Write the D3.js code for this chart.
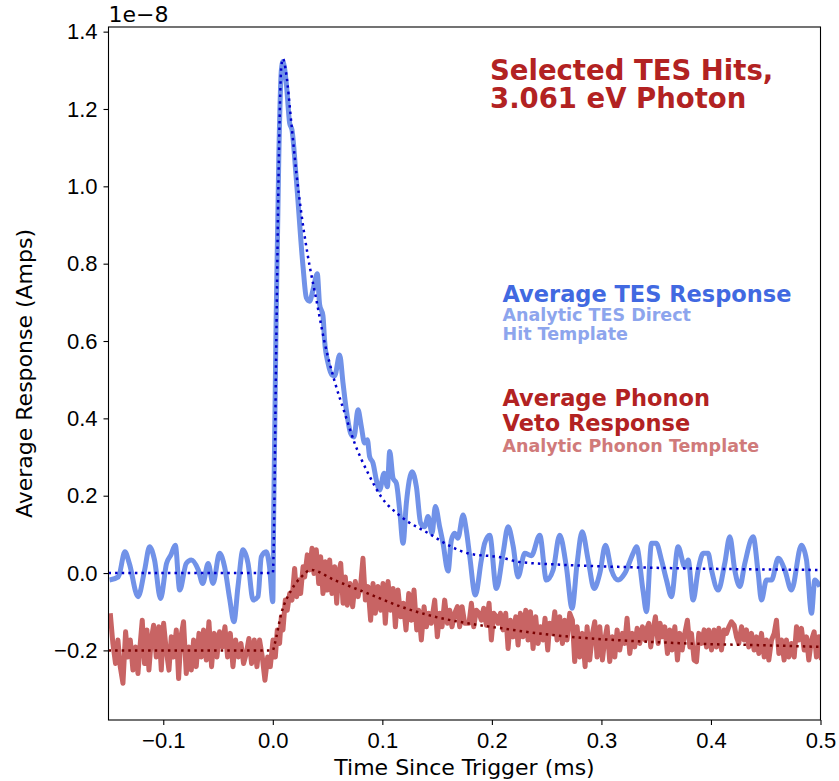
<!DOCTYPE html>
<html>
<head>
<meta charset="utf-8">
<script src="https://cdn.jsdelivr.net/npm/d3@7"></script>
<style>
  html, body { margin: 0; padding: 0; background: #fff; }
  svg { display: block; font-family: "DejaVu Sans", sans-serif; }
  .axis text { font-size: 22px; fill: #000; }
  .axis line { stroke: #000; stroke-width: 1.1; }
</style>
</head>
<body>
<svg id="chart"></svg>
<script>
// values are in units of 1e-8 A, time in ms
const xTicks = [-0.1, 0.0, 0.1, 0.2, 0.3, 0.4, 0.5];
const yTicks = [-0.2, 0.0, 0.2, 0.4, 0.6, 0.8, 1.0, 1.2, 1.4];

const tesAverage = [
  [-0.149, -0.018], [-0.141, -0.010], [-0.135, 0.055], [-0.131, 0.025], [-0.123, -0.061], [-0.117, 0.008],
  [-0.1125, 0.068], [-0.108, 0.034], [-0.1025, -0.066], [-0.097, 0.025], [-0.093, 0.047], [-0.089, 0.072],
  [-0.085, -0.044], [-0.079, 0.025], [-0.0744, 0.034], [-0.068, 0.008], [-0.064, -0.027], [-0.059, 0.025],
  [-0.0546, -0.027], [-0.0486, 0.051], [-0.044, 0.016], [-0.0394, -0.066], [-0.0355, -0.126], [-0.0318, -0.035],
  [-0.0272, 0.060], [-0.0226, 0.025], [-0.018, -0.070], [-0.0135, -0.061], [-0.0105, 0.042], [-0.006, 0.055],
  [-0.003, 0.016], [0.000, -0.074], [0.0008, 0.15], [0.003, 0.65], [0.0055, 1.08], [0.0078, 1.30],
  [0.0093, 1.323], [0.0123, 1.267], [0.0154, 1.163], [0.0175, 1.146], [0.0215, 1.017], [0.0276, 0.792],
  [0.0306, 0.712], [0.0336, 0.703], [0.0367, 0.732], [0.0406, 0.774], [0.0427, 0.695], [0.0458, 0.665],
  [0.0473, 0.600], [0.0504, 0.543], [0.0541, 0.512], [0.0565, 0.510], [0.0610, 0.564], [0.0641, 0.491],
  [0.0671, 0.422], [0.0711, 0.361], [0.0741, 0.352], [0.0778, 0.422], [0.0808, 0.379], [0.0838, 0.336],
  [0.0863, 0.345], [0.0884, 0.301], [0.0915, 0.284], [0.0945, 0.241], [0.0975, 0.215], [0.1016, 0.258],
  [0.1046, 0.223], [0.1067, 0.314], [0.1098, 0.245], [0.1128, 0.232], [0.1158, 0.163], [0.1189, 0.077],
  [0.1219, 0.180], [0.1271, 0.262], [0.1311, 0.223], [0.1350, 0.129], [0.1386, 0.120], [0.1417, 0.146],
  [0.1454, 0.103], [0.1484, 0.172], [0.1523, 0.120], [0.1554, 0.077], [0.1600, 0.005], [0.1630, 0.085],
  [0.1660, 0.103], [0.1690, 0.090], [0.1737, 0.150], [0.1767, 0.110], [0.1797, 0.045], [0.1849, -0.057],
  [0.1904, 0.034], [0.1934, 0.077], [0.1980, 0.098], [0.2041, -0.040], [0.2102, 0.051], [0.2148, 0.120],
  [0.2194, 0.070], [0.2239, -0.010], [0.2300, 0.051], [0.2361, 0.045], [0.2437, 0.098], [0.2498, -0.018],
  [0.2559, 0.008], [0.2619, 0.098], [0.2680, 0.016], [0.2732, -0.091], [0.2778, 0.025], [0.2824, 0.107],
  [0.2879, 0.034], [0.2933, -0.040], [0.2985, -0.001], [0.3037, 0.072], [0.3091, 0.008], [0.3153, -0.018],
  [0.3213, -0.001], [0.3289, 0.051], [0.3320, 0.068], [0.3381, -0.048], [0.3411, -0.100], [0.3457, 0.077],
  [0.3500, 0.077], [0.3548, 0.034], [0.3594, -0.018], [0.3639, -0.061], [0.3700, 0.068], [0.3761, 0.016],
  [0.3792, 0.034], [0.3837, -0.070], [0.3883, 0.008], [0.3929, 0.051], [0.3974, 0.051], [0.4005, 0.008],
  [0.4066, -0.044], [0.4126, 0.025], [0.4172, 0.094], [0.4217, 0.008], [0.4263, -0.035], [0.4309, 0.025],
  [0.4385, 0.094], [0.4431, 0.000], [0.4461, -0.070], [0.4507, -0.018], [0.4553, -0.018], [0.4614, 0.038],
  [0.4674, 0.008], [0.4735, -0.044], [0.4826, 0.072], [0.4872, 0.034], [0.4918, -0.104], [0.4948, -0.018],
  [0.4994, -0.035]
];

const tesTemplate = [
  [-0.15, 0.0], [0.0, 0.0], [0.0032, 0.603], [0.0053, 1.035], [0.0078, 1.31], [0.0093, 1.33],
  [0.0123, 1.29], [0.0169, 1.164], [0.0215, 1.035], [0.026, 0.931], [0.032, 0.82], [0.040, 0.703],
  [0.047, 0.60], [0.056, 0.50], [0.0656, 0.414], [0.0747, 0.336], [0.087, 0.258], [0.099, 0.197],
  [0.117, 0.146], [0.142, 0.103], [0.163, 0.068], [0.178, 0.051], [0.209, 0.040], [0.224, 0.029],
  [0.26, 0.022], [0.315, 0.016], [0.4, 0.011], [0.5, 0.008]
];

const phononAverage = [
  [-0.1484, -0.104], [-0.1460, -0.182], [-0.1436, -0.234], [-0.1414, -0.173], [-0.1393, -0.242], [-0.1368, -0.285],
  [-0.1344, -0.152], [-0.1323, -0.217], [-0.1301, -0.173], [-0.1277, -0.251], [-0.1253, -0.191], [-0.1231, -0.260],
  [-0.1210, -0.182], [-0.1192, -0.122], [-0.1171, -0.234], [-0.1149, -0.147], [-0.1131, -0.251], [-0.1110, -0.173],
  [-0.1088, -0.135], [-0.1064, -0.217], [-0.1040, -0.139], [-0.1018, -0.251], [-0.0997, -0.130], [-0.0973, -0.199],
  [-0.0948, -0.251], [-0.0927, -0.165], [-0.0906, -0.217], [-0.0881, -0.147], [-0.0860, -0.273], [-0.0839, -0.165],
  [-0.0815, -0.126], [-0.0790, -0.260], [-0.0766, -0.191], [-0.0744, -0.251], [-0.0723, -0.173], [-0.0699, -0.242],
  [-0.0674, -0.156], [-0.0653, -0.217], [-0.0632, -0.147], [-0.0607, -0.225], [-0.0583, -0.126], [-0.0559, -0.242],
  [-0.0534, -0.156], [-0.0510, -0.217], [-0.0486, -0.152], [-0.0461, -0.191], [-0.0437, -0.139], [-0.0413, -0.217],
  [-0.0388, -0.156], [-0.0364, -0.242], [-0.0340, -0.173], [-0.0315, -0.217], [-0.0291, -0.182], [-0.0267, -0.234],
  [-0.0242, -0.208], [-0.0218, -0.169], [-0.0194, -0.234], [-0.0169, -0.173], [-0.0145, -0.242], [-0.0121, -0.173],
  [-0.0096, -0.217], [-0.0072, -0.277], [-0.0047, -0.217], [-0.0023, -0.242], [0.0002, -0.173], [0.0023, -0.217],
  [0.0041, -0.147], [0.0062, -0.182], [0.0078, -0.113], [0.0093, -0.147], [0.0114, -0.070], [0.0132, -0.096],
  [0.0154, -0.053], [0.0175, -0.070], [0.0199, 0.012], [0.0218, -0.061], [0.0236, -0.018], [0.0254, -0.053],
  [0.0276, 0.016], [0.0291, -0.010], [0.0315, 0.047], [0.0336, 0.008], [0.0358, 0.064], [0.0376, -0.001],
  [0.0397, 0.060], [0.0419, -0.027], [0.0437, 0.042], [0.0458, -0.053], [0.0479, 0.029], [0.0498, -0.044],
  [0.0519, 0.034], [0.0540, -0.053], [0.0565, 0.016], [0.0583, -0.078], [0.0601, -0.001], [0.0620, 0.025],
  [0.0641, -0.078], [0.0662, -0.010], [0.0680, -0.083], [0.0705, -0.027], [0.0729, -0.087], [0.0753, -0.022],
  [0.0778, -0.061], [0.0802, -0.031], [0.0823, 0.038], [0.0845, -0.070], [0.0869, -0.035], [0.0893, -0.122],
  [0.0915, -0.027], [0.0936, -0.104], [0.0960, -0.035], [0.0985, -0.096], [0.1006, -0.027], [0.1027, -0.130],
  [0.1052, -0.022], [0.1076, -0.096], [0.1098, -0.040], [0.1119, -0.139], [0.1143, -0.044], [0.1168, -0.113],
  [0.1192, -0.078], [0.1216, -0.147], [0.1241, -0.053], [0.1265, -0.122], [0.1289, -0.044], [0.1314, -0.147],
  [0.1332, -0.096], [0.1356, -0.173], [0.1381, -0.087], [0.1402, -0.139], [0.1423, -0.104], [0.1447, -0.130],
  [0.1478, -0.070], [0.1502, -0.165], [0.1524, -0.104], [0.1545, -0.139], [0.1569, -0.070], [0.1594, -0.130],
  [0.1615, -0.096], [0.1636, -0.139], [0.1661, -0.104], [0.1685, -0.087], [0.1706, -0.139], [0.1728, -0.087],
  [0.1752, -0.130], [0.1791, -0.130], [0.1813, -0.078], [0.1834, -0.139], [0.1858, -0.096], [0.1883, -0.104],
  [0.1904, -0.122], [0.1925, -0.091], [0.1950, -0.135], [0.1974, -0.078], [0.1995, -0.173], [0.2017, -0.104],
  [0.2041, -0.113], [0.2056, -0.130], [0.2078, -0.104], [0.2102, -0.147], [0.2126, -0.104], [0.2148, -0.195],
  [0.2169, -0.122], [0.2193, -0.165], [0.2218, -0.113], [0.2239, -0.186], [0.2260, -0.104], [0.2285, -0.165],
  [0.2309, -0.096], [0.2330, -0.173], [0.2352, -0.100], [0.2376, -0.195], [0.2400, -0.113], [0.2422, -0.182],
  [0.2443, -0.139], [0.2467, -0.173], [0.2485, -0.117], [0.2510, -0.199], [0.2528, -0.130], [0.2552, -0.156],
  [0.2574, -0.100], [0.2595, -0.173], [0.2619, -0.113], [0.2644, -0.182], [0.2665, -0.122], [0.2686, -0.173],
  [0.2711, -0.104], [0.2735, -0.122], [0.2756, -0.229], [0.2778, -0.139], [0.2802, -0.217], [0.2826, -0.156],
  [0.2851, -0.242], [0.2869, -0.139], [0.2893, -0.225], [0.2918, -0.156], [0.2939, -0.126], [0.2960, -0.217],
  [0.2985, -0.139], [0.3009, -0.225], [0.3030, -0.173], [0.3052, -0.139], [0.3076, -0.229], [0.3100, -0.165],
  [0.3122, -0.217], [0.3143, -0.147], [0.3167, -0.199], [0.3192, -0.156], [0.3213, -0.182], [0.3234, -0.117],
  [0.3259, -0.208], [0.3283, -0.156], [0.3304, -0.191], [0.3326, -0.143], [0.3350, -0.182], [0.3374, -0.139],
  [0.3399, -0.173], [0.3411, -0.147], [0.3432, -0.130], [0.3450, -0.191], [0.3472, -0.147], [0.3493, -0.113],
  [0.3518, -0.182], [0.3536, -0.130], [0.3554, -0.165], [0.3578, -0.139], [0.3603, -0.208], [0.3624, -0.147],
  [0.3645, -0.199], [0.3670, -0.139], [0.3694, -0.225], [0.3715, -0.156], [0.3737, -0.199], [0.3761, -0.156],
  [0.3785, -0.122], [0.3807, -0.191], [0.3822, -0.156], [0.3846, -0.225], [0.3868, -0.229], [0.3889, -0.156],
  [0.3913, -0.182], [0.3938, -0.147], [0.3959, -0.191], [0.3980, -0.147], [0.4005, -0.199], [0.4029, -0.147],
  [0.4050, -0.191], [0.4072, -0.143], [0.4096, -0.199], [0.4120, -0.147], [0.4142, -0.156], [0.4163, -0.139],
  [0.4187, -0.126], [0.4212, -0.135], [0.4233, -0.165], [0.4254, -0.182], [0.4279, -0.139], [0.4303, -0.173],
  [0.4324, -0.147], [0.4345, -0.191], [0.4370, -0.156], [0.4394, -0.199], [0.4416, -0.165], [0.4437, -0.208],
  [0.4461, -0.156], [0.4486, -0.217], [0.4507, -0.173], [0.4528, -0.225], [0.4553, -0.173], [0.4577, -0.156],
  [0.4598, -0.122], [0.4620, -0.208], [0.4644, -0.173], [0.4668, -0.225], [0.4689, -0.173], [0.4711, -0.217],
  [0.4735, -0.182], [0.4760, -0.217], [0.4781, -0.139], [0.4802, -0.173], [0.4826, -0.143], [0.4851, -0.199],
  [0.4872, -0.165], [0.4893, -0.225], [0.4918, -0.173], [0.4942, -0.152], [0.4963, -0.217], [0.4985, -0.165],
  [0.5009, -0.225]
];

const phononTemplate = [
  [-0.15, -0.2], [0.0, -0.2], [0.0016, -0.185], [0.0078, -0.104], [0.0169, -0.044], [0.026, -0.010],
  [0.035, 0.008], [0.056, -0.018], [0.087, -0.053], [0.117, -0.087], [0.148, -0.113], [0.178, -0.130],
  [0.209, -0.143], [0.254, -0.160], [0.3, -0.171], [0.345, -0.178], [0.4, -0.184], [0.437, -0.186],
  [0.5, -0.191]
];

const titleLines = ['Selected TES Hits,', '3.061 eV Photon'];

const W = 839, H = 781;
const PLOT = { left: 108.5, right: 820.5, top: 27, bottom: 720 };

const svg = d3.select('#chart').attr('width', W).attr('height', H);

const x = d3.scaleLinear().domain([-0.15, 0.5]).range([PLOT.left, PLOT.right]);
const y = d3.scaleLinear().domain([-0.38, 1.412]).range([PLOT.bottom, PLOT.top]);
const fmt = d3.format('.1f');

svg.append('clipPath').attr('id', 'plotClip')
  .append('rect')
  .attr('x', PLOT.left).attr('y', PLOT.top)
  .attr('width', PLOT.right - PLOT.left).attr('height', PLOT.bottom - PLOT.top);

const smooth = d3.line().x(d => x(d[0])).y(d => y(d[1])).curve(d3.curveMonotoneX);
const straight = d3.line().x(d => x(d[0])).y(d => y(d[1]));

const plot = svg.append('g').attr('clip-path', 'url(#plotClip)');

// TES first, phonon on top
plot.append('path').datum(tesAverage)
  .attr('d', smooth)
  .attr('fill', 'none').attr('stroke', '#7192e8').attr('stroke-width', 5)
  .attr('stroke-linejoin', 'round');

plot.append('path').datum(tesTemplate)
  .attr('d', smooth)
  .attr('fill', 'none').attr('stroke', '#0000cd').attr('stroke-width', 2.5)
  .attr('stroke-dasharray', '2.5 4.1');

plot.append('path').datum(phononAverage)
  .attr('d', straight)
  .attr('fill', 'none').attr('stroke', '#c86464').attr('stroke-width', 5)
  .attr('stroke-linejoin', 'round');

plot.append('path').datum(phononTemplate)
  .attr('d', smooth)
  .attr('fill', 'none').attr('stroke', '#7a0000').attr('stroke-width', 2.5)
  .attr('stroke-dasharray', '2.5 4.1');

// Axes
svg.append('g')
  .attr('class', 'axis')
  .attr('transform', `translate(0, ${PLOT.bottom})`)
  .call(d3.axisBottom(x).tickValues(xTicks).tickFormat(fmt).tickSize(5).tickPadding(7))
  .call(g => g.select('.domain').remove());

svg.append('g')
  .attr('class', 'axis')
  .attr('transform', `translate(${PLOT.left}, 0)`)
  .call(d3.axisLeft(y).tickValues(yTicks).tickFormat(fmt).tickSize(5).tickPadding(6))
  .call(g => g.select('.domain').remove());

svg.append('rect')
  .attr('x', PLOT.left).attr('y', PLOT.top)
  .attr('width', PLOT.right - PLOT.left).attr('height', PLOT.bottom - PLOT.top)
  .attr('fill', 'none').attr('stroke', '#000').attr('stroke-width', 1.1);

svg.append('text')
  .attr('x', PLOT.left).attr('y', 21.5)
  .style('font-size', '22px')
  .text('1e\u22128');

svg.append('text')
  .attr('x', (PLOT.left + PLOT.right) / 2).attr('y', 775)
  .attr('text-anchor', 'middle')
  .style('font-size', '22px')
  .text('Time Since Trigger (ms)');

svg.append('text')
  .attr('transform', `translate(32, ${(PLOT.top + PLOT.bottom) / 2}) rotate(-90)`)
  .attr('text-anchor', 'middle')
  .style('font-size', '22px')
  .text('Average Response (Amps)');

// Annotations
svg.selectAll('.title')
  .data(titleLines)
  .enter()
  .append('text')
  .attr('class', 'title')
  .attr('x', 490)
  .attr('y', (d, i) => 80 + i * 28)
  .style('font-size', '27.5px').style('font-weight', 'bold').style('fill', '#b22222')
  .text(d => d);

const notes = [
  { text: 'Average TES Response', y: 302, size: 22.5, color: '#4169e1' },
  { text: 'Analytic TES Direct', y: 321, size: 17.5, color: '#8da5ed' },
  { text: 'Hit Template', y: 340, size: 17.5, color: '#8da5ed' },
  { text: 'Average Phonon', y: 406, size: 22.5, color: '#b22222' },
  { text: 'Veto Response', y: 431, size: 22.5, color: '#b22222' },
  { text: 'Analytic Phonon Template', y: 452, size: 17.5, color: '#d07a7a' }
];

svg.selectAll('.note')
  .data(notes)
  .enter()
  .append('text')
  .attr('class', 'note')
  .attr('x', 502.5)
  .attr('y', d => d.y)
  .style('font-size', d => `${d.size}px`)
  .style('font-weight', 'bold')
  .style('fill', d => d.color)
  .text(d => d.text);
</script>
</body>
</html>
